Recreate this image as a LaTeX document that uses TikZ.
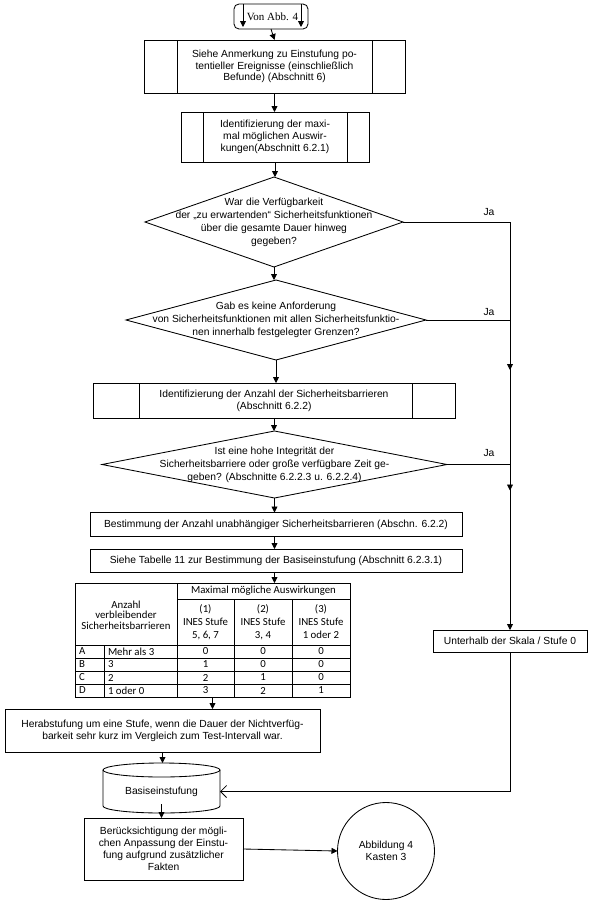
\documentclass[tikz,border=0pt]{standalone}
\usepackage{fontspec}
\setmainfont{Liberation Sans}
\newfontfamily\serifA{Liberation Serif}
\newfontfamily\calib{Carlito}
\usetikzlibrary{arrows.meta,shapes.geometric,calc}
\begin{document}
\begin{tikzpicture}[x=1pt,y=-1pt, line width=0.85pt,
  every node/.style={inner sep=0pt, outer sep=0pt},
  box/.style={draw, align=center, font=\fontsize{10.3}{11.8}\selectfont},
  dia/.style={draw, diamond, inner sep=0pt},
  diatext/.style={align=center, font=\fontsize{10.3}{13}\selectfont},
  lbl/.style={font=\fontsize{10.3}{12}\selectfont},
  arr/.style={-{Triangle[length=6pt,width=6pt]}},
  openarr/.style={-{Straight Barb[length=6pt,width=12pt,line width=0.85pt]}},
  tcell/.style={font=\calib\fontsize{10.8}{10.5}\selectfont, align=center},
  tcellb/.style={font=\calib\fontsize{10.8}{13}\selectfont, align=center},
]
\useasboundingbox (0,0) rectangle (595,900);

% start terminator
\node[draw, rounded corners=5pt, minimum width=74pt, minimum height=25pt,
      font=\serifA\fontsize{11}{12}\selectfont] (start) at (271,16.5) {\hspace*{3pt}Von Abb. 4};
\draw[arr] ($(start.north west)+(9,0)$) -- ($(start.south west)+(9,-2)$);
\draw[arr] ($(start.north east)+(-7,0)$) -- ($(start.south east)+(-7,-2)$);

% box 1 (predefined process)
\node[box, minimum width=261pt, minimum height=53pt] (b1) at (274.5,66.5)
  {Siehe Anmerkung zu Einstufung po-\\tentieller Ereignisse (einschließlich\\Befunde) (Abschnitt 6)};
\draw ($(b1.north west)+(33,0)$) -- ($(b1.south west)+(33,0)$);
\draw ($(b1.north east)+(-33,0)$) -- ($(b1.south east)+(-33,0)$);

% box 2
\node[box, minimum width=188pt, minimum height=50pt] (b2) at (275,137)
  {Identifizierung der maxi-\\mal möglichen Auswir-\\kungen(Abschnitt 6.2.1)};
\draw ($(b2.north west)+(22,0)$) -- ($(b2.south west)+(22,0)$);
\draw ($(b2.north east)+(-22,0)$) -- ($(b2.south east)+(-22,0)$);

% decision 1
\node[dia, minimum width=258pt, minimum height=90pt] (d1) at (274,222) {};
\node[diatext] (d1t) at (d1) {War die Verfügbarkeit\\der „zu erwartenden“ Sicherheitsfunktionen\\über die gesamte Dauer hinweg\\gegeben?};

% decision 2
\node[dia, minimum width=300pt, minimum height=80pt] (d2) at (276,320) {};
\node[diatext] (d2t) at (d2) {Gab es keine Anforderung\\von Sicherheitsfunktionen mit allen Sicherheitsfunktio-\\nen innerhalb festgelegter Grenzen?};

% box 3
\node[box, minimum width=362pt, minimum height=35pt] (b3) at (274,400.5)
  {Identifizierung der Anzahl der Sicherheitsbarrieren\\(Abschnitt 6.2.2)};
\draw ($(b3.north west)+(46,0)$) -- ($(b3.south west)+(46,0)$);
\draw ($(b3.north east)+(-43,0)$) -- ($(b3.south east)+(-43,0)$);

% decision 3
\node[dia, minimum width=345pt, minimum height=67pt] (d3) at (274.5,464.5) {};
\node[diatext] (d3t) at (d3) {Ist eine hohe Integrität der\\Sicherheitsbarriere oder große verfügbare Zeit ge-\\geben? (Abschnitte 6.2.2.3 u. 6.2.2.4)};

% boxes 4, 5
\node[box, minimum width=372pt, minimum height=24pt] (b4) at (276,524.5)
  {Bestimmung der Anzahl unabhängiger Sicherheitsbarrieren (Abschn. 6.2.2)};
\node[box, minimum width=372pt, minimum height=23pt] (b5) at (276,560.5)
  {Siehe Tabelle 11 zur Bestimmung der Basiseinstufung (Abschnitt 6.2.3.1)};

% table
\node[draw, minimum width=275pt, minimum height=114pt] (tbl) at (212.5,640) {};
\draw (177,583) -- (177,697);
\draw (177,599) -- (350,599);
\draw (75,645) -- (350,645);
\draw (75,658) -- (350,658);
\draw (75,671) -- (350,671);
\draw (75,684) -- (350,684);
\draw (234,599) -- (234,697);
\draw (292,599) -- (292,697);
\draw (104,645) -- (104,697);
\node[tcell] at (126,615) {Anzahl\\verbleibender\\Sicherheitsbarrieren};
\node[tcell] at (263.5,591) {Maximal mögliche Auswirkungen};
\node[tcellb] at (205.5,622) {(1)\\INES Stufe\\5, 6, 7};
\node[tcellb] at (263,622) {(2)\\INES Stufe\\3, 4};
\node[tcellb] at (321,622) {(3)\\INES Stufe\\1 oder 2};
\foreach \y/\r/\t/\a/\b/\c in {651.5/A/Mehr als 3/0/0/0, 664.5/B/3/1/0/0, 677.5/C/2/2/1/0, 690.5/D/1 oder 0/3/2/1}{
  \node[tcell, anchor=west] at (79,\y) {\r};
  \node[tcell, anchor=west] at (108,\y) {\t};
  \node[tcell] at (205.5,\y) {\a};
  \node[tcell] at (263,\y) {\b};
  \node[tcell] at (321,\y) {\c};
}

% box Herabstufung
\node[box, minimum width=315pt, minimum height=43pt] (hb) at (162.5,730.5)
  {Herabstufung um eine Stufe, wenn die Dauer der Nichtverfüg-\\barkeit sehr kurz im Vergleich zum Test-Intervall war.};

% cylinder
\node[lbl, minimum width=117pt, minimum height=43pt] (cyl) at (161.5,791.5) {\raisebox{-3pt}{Basiseinstufung}};
\draw (cyl.north west) -- ($(cyl.south west)+(0,-7)$)
  arc[start angle=180, end angle=360, x radius=58.5pt, y radius=7pt] -- (cyl.north east);
\draw (cyl.north) ellipse[x radius=58.5pt, y radius=7pt];
\coordinate (cyltop) at ($(cyl.north)+(0,-7)$);

% final box and circle
\node[box, minimum width=159pt, minimum height=62pt] (bf) at (163.5,849)
  {Berücksichtigung der mögli-\\chen Anpassung der Einstu-\\fung aufgrund zusätzlicher\\Fakten};
\node[draw, circle, minimum size=97pt, align=center, font=\fontsize{10.3}{12}\selectfont] (ci) at (386,851) {Abbildung 4\\Kasten 3};

% right side
\node[box, minimum width=154pt, minimum height=22pt] (un) at (510,641) {Unterhalb der Skala / Stufe 0};

% main connectors
\draw[arr] (start.south) -- (b1.north);
\draw[arr] (b1.south) -- (b1.south |- b2.north);
\draw[arr] (b2.south) -- (b2.south |- d1.north);
\draw[arr] (d1.south) -- (d1.south |- d2.north);
\draw[arr] (d2.south) -- (d2.south |- b3.north);
\draw[arr] (b3.south) -- (b3.south |- d3.north);
\draw[arr] (d3.south) -- (d3.south |- b4.north);
\draw[arr] (b4.south -| d3.south) -- (d3.south |- b5.north);
\draw[arr] (b5.south -| d3.south) -- (d3.south |- tbl.north);
\draw[arr] (tbl.south) -- (tbl.south |- hb.north);
\draw[arr] (hb.south) -- (hb.south |- cyltop);
\draw[arr] (cyl.south |- bf.north) ++(0,-14) -- (cyl.south |- bf.north);
\draw[arr] (bf.east) -- (ci.west);

% Ja branches
\draw[arr] (d1.east) -- (d1.east -| un.north) -- (un.north);
\draw (d2.east) -- (d2.east -| un.north);
\draw (d3.east) -- (d3.east -| un.north);
\draw[arr] ($(d2.east -| un.north)+(0,30)$) -- ($(d2.east -| un.north)+(0,50)$);
\draw[arr] ($(d3.east -| un.north)+(0,10)$) -- ($(d3.east -| un.north)+(0,26)$);
\node[lbl] at ($(d1.east -| un.north)+(-21,-10)$) {Ja};
\node[lbl] at ($(d2.east -| un.north)+(-21,-8)$) {Ja};
\node[lbl] at ($(d3.east -| un.north)+(-21,-11)$) {Ja};

% return to base rating
\draw[openarr] (un.south) |- (cyl.east);
\end{tikzpicture}
\end{document}
